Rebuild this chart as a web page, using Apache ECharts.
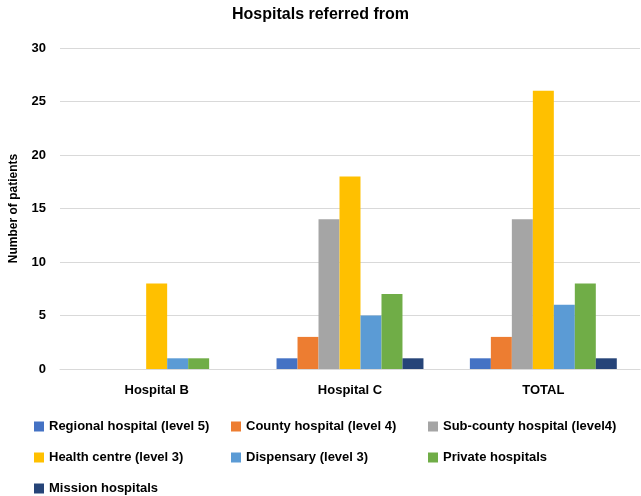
<!DOCTYPE html>
<html>
<head>
<meta charset="utf-8">
<script src="https://cdn.jsdelivr.net/npm/echarts@6/dist/echarts.min.js"></script>
<style>html,body{margin:0;padding:0;background:#fff;}#c{width:641px;height:496px;}</style>
</head>
<body>
<div id="c"></div>
<script>
var categories = ['Hospital B', 'Hospital C', 'TOTAL'];
var seriesNames = ['Regional hospital (level 5)', 'County hospital (level 4)', 'Sub-county hospital (level4)', 'Health centre (level 3)', 'Dispensary (level 3)', 'Private hospitals', 'Mission hospitals'];
var regional = [0, 1, 1];
var county = [0, 3, 3];
var subCounty = [0, 14, 14];
var healthCentre = [8, 18, 26];
var dispensary = [1, 5, 6];
var privateH = [1, 7, 8];
var mission = [0, 1, 1];
var colors = ['#4472C4', '#ED7D31', '#A5A5A5', '#FFC000', '#5B9BD5', '#70AD47', '#264478'];
var values = [regional, county, subCounty, healthCentre, dispensary, privateH, mission];

var font = 'Liberation Sans';
var chart = echarts.init(document.getElementById('c'));
chart.setOption({
  animation: false,
  color: colors,
  title: {
    text: 'Hospitals referred from',
    left: 'center',
    top: 2,
    textStyle: { fontFamily: font, fontSize: 16, fontWeight: 'bold', color: '#000' }
  },
  legend: {
    left: 29,
    top: 411,
    width: 610,
    itemWidth: 10,
    itemHeight: 10,
    itemGap: 10,
    icon: 'rect',
    textStyle: { fontFamily: font, fontSize: 13, fontWeight: 'bold', color: '#000', width: 172, height: 21, lineHeight: 21 },
    data: seriesNames
  },
  grid: { left: 56, right: 1, top: 48, bottom: 127, containLabel: false },
  xAxis: {
    type: 'category',
    data: categories,
    axisLine: { lineStyle: { color: '#d9d9d9', width: 1 } },
    axisTick: { show: false },
    axisLabel: { fontFamily: font, fontSize: 13, fontWeight: 'bold', color: '#000', margin: 15 }
  },
  yAxis: {
    type: 'value',
    min: 0,
    max: 30,
    interval: 5,
    name: 'Number of patients',
    nameLocation: 'middle',
    nameGap: 40,
    nameTextStyle: { fontFamily: font, fontSize: 12, fontWeight: 'bold', color: '#000' },
    axisLabel: { fontFamily: font, fontSize: 13, fontWeight: 'bold', color: '#000', margin: 14 },
    splitLine: { lineStyle: { color: '#d9d9d9', width: 1 } }
  },
  series: seriesNames.map(function (n, i) {
    return {
      name: n,
      type: 'bar',
      data: values[i],
      barGap: '0%',
      barCategoryGap: '24%'
    };
  })
});
</script>
</body>
</html>
